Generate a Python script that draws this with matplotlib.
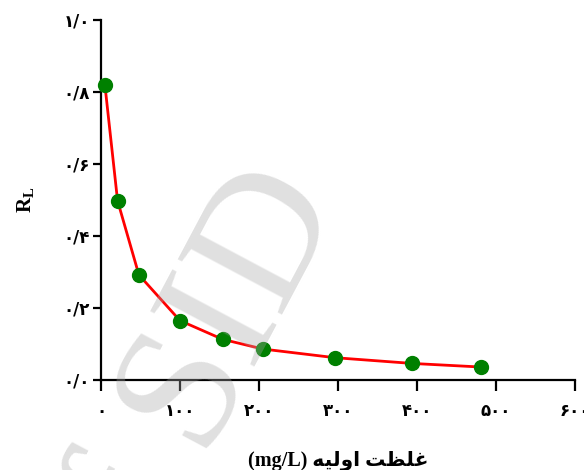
import numpy as np
import matplotlib.pyplot as plt

# Data #
c0 = [5, 21, 48, 100, 154, 205, 296, 394, 481]
rl = [0.819, 0.498, 0.292, 0.165, 0.113, 0.086, 0.062, 0.046, 0.036]

xticks = [0, 100, 200, 300, 400, 500, 600]
xtick_labels = ['۰', '۱۰۰', '۲۰۰', '۳۰۰', '۴۰۰', '۵۰۰', '۶۰۰']
yticks = [0.0, 0.2, 0.4, 0.6, 0.8, 1.0]
ytick_labels = ['۰/۰', '۰/۲', '۰/۴', '۰/۶', '۰/۸', '۱/۰']

# "غلظت اولیه (mg/L)" written in visual order with shaped forms
xlabel = '(mg/L) ' + '\uFEEA\uFEF4\uFEDF\uFEED\uFE8D' + ' ' + '\uFE96\uFEC8\uFEE0\uFECF'
# -------- #

plt.rcParams['font.family'] = ['Liberation Serif', 'DejaVu Sans']
plt.rcParams['mathtext.fontset'] = 'custom'
plt.rcParams['mathtext.rm'] = 'Liberation Serif'
plt.rcParams['mathtext.bf'] = 'Liberation Serif:bold'

fig = plt.figure(figsize=(5.84, 4.70), dpi=100)
ax = fig.add_axes([0.1729, 0.1915, 0.8116, 0.766])

ax.plot(c0, rl, color='red', lw=2.0, zorder=3)
ax.plot(c0, rl, 'o', color='#008000', markersize=10, zorder=4, clip_on=False)

ax.set_xlim(0, 600)
ax.set_ylim(0, 1.0)
ax.set_xticks(xticks)
ax.set_xticklabels(xtick_labels, fontsize=12, fontweight='bold', family=['DejaVu Sans'])
ax.set_yticks(yticks)
ax.set_yticklabels(ytick_labels, fontsize=12, fontweight='bold', family=['DejaVu Sans'])

ax.spines['top'].set_visible(False)
ax.spines['right'].set_visible(False)
ax.spines['left'].set_linewidth(1.6)
ax.spines['bottom'].set_linewidth(1.6)
ax.tick_params(axis='x', direction='out', length=8, width=1.6, pad=8)
ax.tick_params(axis='y', direction='out', length=6, width=1.6, pad=2)

ax.set_xlabel(xlabel, fontsize=14.5, fontweight='bold', labelpad=22)
ax.set_ylabel(r'$\mathbf{R_L}$', fontsize=15, labelpad=20)

# watermark
fig.text(0.39, 0.11, 'of SID', fontsize=130, color=(0.65, 0.65, 0.65), alpha=0.35,
         rotation=62, rotation_mode='anchor', ha='center', va='baseline',
         family='Liberation Serif', zorder=10)

fig.savefig('out.png', dpi=100)
